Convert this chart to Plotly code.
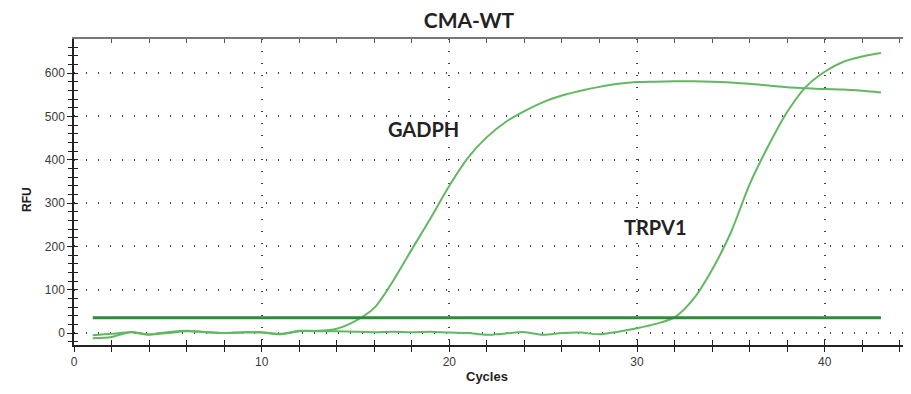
import plotly.graph_objects as go

cycles = list(range(1, 44))
gadph = [-12, -9, 2, -3, 2, 5, 2, 0, 2, 1,
         -3, 5, 5, 10, 28, 58, 120, 193, 265, 340,
         405, 452, 487, 512, 533, 548, 559, 568, 575, 579,
         580, 581, 581, 580, 578, 575, 571, 567, 565, 563,
         562, 559, 555]
trpv1 = [-5, -2, 2, -4, 0, 4, 2, 0, 1, 2,
         -2, 4, 4, 4, 3, 2, 3, 2, 3, 1,
         0, -4, -1, 2, -4, 0, 1, -3, 3, 11,
         21, 36, 78, 146, 232, 343, 432, 510, 568, 603,
         626, 638, 646]
threshold = 35
labels = {"GADPH": (18.6, 470), "TRPV1": (31.0, 245)}

curve_color = "#62b862"
thr_color = "#2f8a3c"
xr = [0, 44.6]
yr = [-27.7, 678.5]
W, H = 911, 394
OFF = 8  # page body margin

# plot area in window pixels: left 74, right 911, top 39, bottom 345
PL, PR, PT, PB = 74, 911, 39, 345


def px(x):
    return (x - PL) / (PR - PL)


def py(y):
    return (PB - y) / (PB - PT)


fig = go.Figure()
for ys in (gadph, trpv1):
    fig.add_trace(go.Scatter(x=cycles, y=ys, mode="lines",
                             line=dict(color=curve_color, width=2, shape="spline", smoothing=0.8),
                             showlegend=False, hoverinfo="skip"))
fig.add_trace(go.Scatter(x=[cycles[0], cycles[-1]], y=[threshold, threshold], mode="lines",
                         line=dict(color=thr_color, width=3), showlegend=False, hoverinfo="skip"))
# dummy traces so the extra tick axes are drawn
fig.add_trace(go.Scatter(x=[None], y=[None], xaxis="x2", yaxis="y2", showlegend=False))
fig.add_trace(go.Scatter(x=[None], y=[None], xaxis="x3", yaxis="y2", showlegend=False))

for txt, (x, y) in labels.items():
    fig.add_annotation(x=x, y=y, text=txt, showarrow=False,
                       font=dict(family="Lato", size=20, color="#222222", weight="bold"))

fig.add_annotation(x=px(18), y=py(200), xref="paper", yref="paper", text="<b>RFU</b>",
                   textangle=-90, showarrow=False,
                   font=dict(family="Liberation Sans", size=12, color="#222"))
fig.add_annotation(x=px(487), y=py(386), xref="paper", yref="paper", text="<b>Cycles</b>",
                   showarrow=False, font=dict(family="Liberation Sans", size=13, color="#222"))

tickfont = dict(family="Liberation Sans", size=12, color="#3a3a3a")
fig.update_layout(
    width=W, height=H,
    margin=dict(l=PL - OFF, r=W - (PR - OFF), t=PT - OFF, b=H - (PB - OFF)),
    paper_bgcolor="white", plot_bgcolor="white",
    title=dict(text="<b>CMA-WT</b>", x=(469 - OFF) / W, xanchor="center", y=1 - (21 - OFF) / H,
               yanchor="middle", font=dict(family="Lato", size=21, color="#222222")),
    xaxis=dict(range=xr, tickvals=[0, 10, 20, 30, 40], ticks="outside", ticklen=5,
               tickcolor="#222", showline=True, linecolor="#222", linewidth=1.5,
               showgrid=True, gridcolor="#444", griddash="1px,11px", gridwidth=1.5,
               zeroline=False, tickfont=tickfont, automargin=False,
               minor=dict(dtick=2, ticks="outside", ticklen=5, tickcolor="#222", showgrid=False)),
    yaxis=dict(range=yr, tickvals=[0, 100, 200, 300, 400, 500, 600], ticks="outside", ticklen=5,
               tickcolor="#222", showline=True, linecolor="#222", linewidth=1.5,
               showgrid=True, gridcolor="#444", griddash="1px,11px", gridwidth=1.5,
               zeroline=False, tickfont=tickfont, automargin=False,
               minor=dict(tick0=0, dtick=20, ticks="outside", ticklen=4, tickcolor="#222", showgrid=False)),
    xaxis2=dict(range=xr, overlaying="x", side="top", anchor="y2", showline=True, linecolor="#777",
                linewidth=1.5, showgrid=False, zeroline=False, showticklabels=False, automargin=False,
                tickvals=list(range(0, 45, 2)), ticks="inside", ticklen=4, tickcolor="#555"),
    xaxis3=dict(range=xr, overlaying="x", side="bottom", anchor="y2", showline=False, automargin=False,
                showgrid=False, zeroline=False, showticklabels=False,
                tickvals=list(range(0, 45, 2)), ticks="inside", ticklen=5, tickcolor="#222"),
    yaxis2=dict(range=yr, overlaying="y", side="left", showline=False, showgrid=False, automargin=False,
                zeroline=False, showticklabels=False,
                tickvals=list(range(-20, 680, 20)), ticks="inside", ticklen=4, tickcolor="#222"),
)

fig.write_html("out.html")
